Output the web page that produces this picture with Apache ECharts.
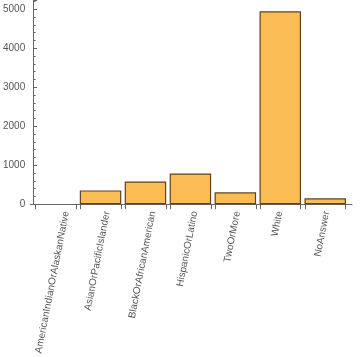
<!DOCTYPE html>
<html><head><meta charset="utf-8">
<script src="https://cdn.jsdelivr.net/npm/echarts@6/dist/echarts.min.js"></script>
<style>html,body{margin:0;padding:0;background:#fff}#c{width:360px;height:357px}</style>
</head><body><div id="c"></div>
<script>
const categories = ["AmericanIndianOrAlaskanNative","AsianOrPacificIslander","BlackOrAfricanAmerican","HispanicOrLatino","TwoOrMore","White","NoAnswer"];
const values = [0, 355, 585, 790, 305, 4950, 152];
const yTicks = [0, 1000, 2000, 3000, 4000, 5000];

const FONT = '10px "Liberation Sans", Arial, sans-serif';
const ROT = 79;
const unitPx = 45.6;      // px per category (for label offset conversion)
const halfBar = 0.455;    // half bar width in category units
const ctx = document.createElement('canvas').getContext('2d');
ctx.font = FONT;
const centers = categories.map((c, i) => i + 0.5);
const labelPos = categories.map((c, i) => {
  const L = ctx.measureText(c).width;
  return centers[i] + ((L / 2) * Math.cos(ROT * Math.PI / 180) - 3) / unitPx;
});
const tickPos = [];
centers.forEach(c => { tickPos.push(c - halfBar, c + halfBar); });

const chart = echarts.init(document.getElementById('c'), null, {renderer: 'canvas'});
chart.setOption({
  animation: false,
  grid: {left: 25.5, right: 8, top: 0, bottom: 150.7, containLabel: false},
  xAxis: {
    type: 'value', min: -0.064, max: 7.096,
    axisLine: {show: true, lineStyle: {color: '#666', width: 1}},
    splitLine: {show: false},
    axisTick: {show: true, inside: false, length: 5, customValues: tickPos, lineStyle: {color: '#666'}},
    axisLabel: {
      show: true, rotate: ROT, margin: 7, customValues: labelPos,
      color: '#555', fontSize: 10, fontFamily: '"Liberation Sans", Arial, sans-serif',
      formatter: v => categories[Math.floor(v)] || ''
    }
  },
  yAxis: {
    type: 'value', min: 0, max: 5240, interval: 1000,
    axisLine: {show: true, lineStyle: {color: '#666', width: 1}},
    splitLine: {show: false},
    axisTick: {show: true, inside: true, length: 4, lineStyle: {color: '#666'}},
    minorTick: {show: true, splitNumber: 5, length: 2.5, lineStyle: {color: '#666'}},
    axisLabel: {
      margin: 5, color: '#555', fontSize: 10, fontFamily: '"Liberation Sans", Arial, sans-serif',
      showMaxLabel: false,
      formatter: v => (yTicks.indexOf(v) >= 0 ? String(v) : '')
    }
  },
  series: [{
    type: 'bar',
    barWidth: 41.5,
    data: values.map((v, i) => v === 0
      ? {value: [centers[i], v], itemStyle: {borderWidth: 0}}
      : [centers[i], v]),
    itemStyle: {color: '#fbbd53', borderColor: '#5b4520', borderWidth: 1.2}
  }]
});
</script></body></html>
